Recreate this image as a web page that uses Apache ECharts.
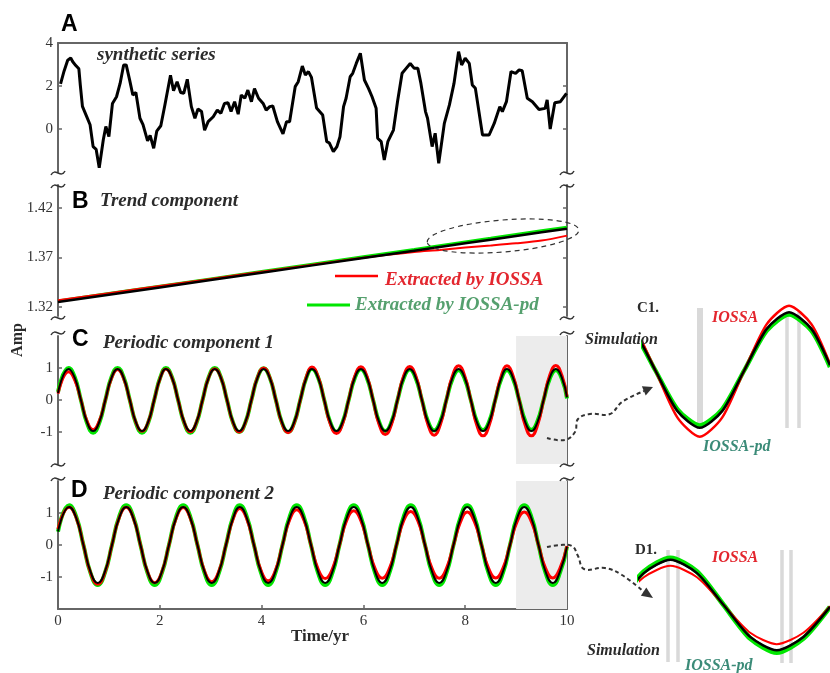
<!DOCTYPE html>
<html><head><meta charset="utf-8">
<script src="https://cdn.jsdelivr.net/npm/echarts@6/dist/echarts.min.js"></script>
<style>html,body{margin:0;padding:0;background:#fff}#c{width:830px;height:673px}</style>
</head><body><div id="c"></div>
<script>
// ---- Panel A: synthetic series [time, amp] ----
const synthetic = [[0.05,2.1],[0.12,2.7],[0.19,3.2],[0.25,3.3],[0.29,3.13],[0.35,2.95],[0.41,2.8],[0.44,2.0],[0.48,1.05],[0.56,0.6],[0.63,0.2],[0.69,-0.82],[0.75,-0.95],[0.81,-1.8],[0.89,-0.5],[0.94,0.12],[1.0,-0.35],[1.07,1.19],[1.15,1.5],[1.22,2.12],[1.29,2.98],[1.34,2.98],[1.41,2.25],[1.47,1.58],[1.53,1.7],[1.61,0.5],[1.67,0.2],[1.76,-0.55],[1.81,-0.3],[1.88,-0.9],[1.94,-0.1],[2.02,0.15],[2.1,1.12],[2.21,2.5],[2.27,1.78],[2.34,2.2],[2.41,1.7],[2.47,1.66],[2.54,2.31],[2.62,1.04],[2.69,0.5],[2.75,0.93],[2.82,0.81],[2.88,-0.06],[2.95,0.34],[3.05,0.57],[3.13,0.88],[3.2,0.73],[3.27,1.19],[3.34,1.22],[3.4,0.81],[3.47,1.27],[3.54,0.69],[3.6,1.58],[3.67,1.43],[3.73,1.81],[3.8,1.27],[3.86,1.88],[3.94,1.43],[4.03,1.19],[4.09,0.88],[4.16,1.04],[4.22,1.07],[4.31,0.34],[4.42,-0.23],[4.49,0.34],[4.55,0.34],[4.66,1.97],[4.72,2.2],[4.8,2.93],[4.86,2.51],[4.92,2.67],[4.98,2.4],[5.08,0.98],[5.2,0.65],[5.28,-0.59],[5.33,-0.64],[5.41,-1.05],[5.48,-0.82],[5.54,-0.36],[5.61,1.04],[5.66,1.43],[5.74,2.43],[5.79,2.59],[5.86,3.05],[5.94,3.52],[6.02,2.28],[6.1,1.89],[6.17,1.5],[6.25,0.96],[6.28,-0.43],[6.35,-0.59],[6.41,-1.44],[6.48,-0.59],[6.59,-0.05],[6.67,1.27],[6.76,2.59],[6.84,2.82],[6.92,3.05],[7.0,2.82],[7.07,2.82],[7.13,2.12],[7.22,0.81],[7.26,0.5],[7.35,-0.82],[7.41,-0.2],[7.48,-1.6],[7.59,0.26],[7.69,1.12],[7.78,2.12],[7.87,3.6],[7.93,2.98],[8.0,3.29],[8.08,3.05],[8.14,2.05],[8.2,1.89],[8.34,-0.28],[8.47,-0.28],[8.57,0.26],[8.68,1.04],[8.73,0.81],[8.81,1.27],[8.9,2.67],[8.99,2.59],[9.06,2.75],[9.12,2.71],[9.22,1.43],[9.32,1.27],[9.45,0.91],[9.57,0.96],[9.61,1.35],[9.67,0.0],[9.76,1.22],[9.87,1.27],[9.99,1.66]];

// ---- Panel B: trend component ----
const bX     = [0, 1, 2, 3, 4, 5, 6, 7, 7.5, 8, 8.5, 9, 9.5, 10];
const bSim   = [1.325,1.3324,1.3398,1.3472,1.3546,1.362,1.3694,1.3768,1.3805,1.3842,1.3879,1.3916,1.3953,1.399];
const bGreen = [1.3262,1.3336,1.341,1.3484,1.3558,1.3632,1.3706,1.378,1.3818,1.3856,1.3893,1.3931,1.3968,1.4005];
const bRed   = [1.3268,1.3340,1.3412,1.3484,1.3556,1.3627,1.3698,1.3755,1.3775,1.3800,1.3820,1.3842,1.3870,1.392];

// ---- Panel C: periodic component 1 ----
const cX = [0,
 0.21,0.33,0.45,0.57,0.69,0.81,0.93,1.05,
 1.17,1.29,1.41,1.53,1.65,1.77,1.89,2.01,
 2.12,2.24,2.36,2.48,2.60,2.72,2.84,2.96,
 3.08,3.20,3.32,3.44,3.56,3.68,3.80,3.92,
 4.04,4.16,4.28,4.40,4.52,4.64,4.76,4.88,
 4.99,5.11,5.23,5.35,5.47,5.59,5.71,5.83,
 5.95,6.07,6.19,6.31,6.43,6.55,6.67,6.79,
 6.91,7.03,7.15,7.27,7.39,7.51,7.63,7.75,
 7.87,7.99,8.11,8.23,8.35,8.47,8.59,8.71,
 8.82,8.94,9.06,9.18,9.30,9.42,9.54,9.66,
 9.78,9.90,10.0];
const cSim = [0.22,
 0.97,0.69,0,-0.69,-0.97,-0.69,0,0.69,
 0.97,0.69,0,-0.69,-0.97,-0.69,0,0.69,
 0.97,0.69,0,-0.69,-0.97,-0.69,0,0.69,
 0.97,0.69,0,-0.69,-0.97,-0.69,0,0.69,
 0.97,0.69,0,-0.69,-0.97,-0.69,0,0.69,
 0.97,0.69,0,-0.69,-0.97,-0.69,0,0.69,
 0.97,0.69,0,-0.69,-0.97,-0.69,0,0.69,
 0.97,0.69,0,-0.69,-0.97,-0.69,0,0.69,
 0.97,0.69,0,-0.69,-0.97,-0.69,0,0.69,
 0.97,0.69,0,-0.69,-0.97,-0.69,0,0.69,
 0.97,0.69,0.08];
const cRed = [0.2,
 0.88,0.62,0,-0.66,-0.93,-0.66,0,0.67,
 0.95,0.67,0,-0.70,-0.98,-0.70,0,0.69,
 0.97,0.69,0,-0.70,-0.99,-0.70,0,0.70,
 0.98,0.70,0,-0.71,-1.00,-0.71,0,0.71,
 1.00,0.71,0,-0.72,-1.02,-0.72,0,0.73,
 1.03,0.73,0,-0.75,-1.05,-0.75,0,0.74,
 1.04,0.74,0,-0.77,-1.08,-0.77,0,0.75,
 1.05,0.75,0,-0.78,-1.10,-0.78,0,0.76,
 1.07,0.76,0,-0.80,-1.12,-0.80,0,0.76,
 1.07,0.76,0,-0.80,-1.12,-0.80,0,0.77,
 1.08,0.77,0.1];
const cGreen = [0.25,
 1.00,0.71,0,-0.72,-1.02,-0.72,0,0.71,
 1.00,0.71,0,-0.72,-1.02,-0.72,0,0.71,
 1.00,0.71,0,-0.72,-1.02,-0.72,0,0.71,
 1.00,0.71,0,-0.71,-1.00,-0.71,0,0.70,
 0.99,0.70,0,-0.71,-1.00,-0.71,0,0.70,
 0.98,0.70,0,-0.70,-0.99,-0.70,0,0.68,
 0.96,0.68,0,-0.69,-0.97,-0.69,0,0.67,
 0.95,0.67,0,-0.67,-0.95,-0.67,0,0.66,
 0.93,0.66,0,-0.67,-0.94,-0.67,0,0.66,
 0.93,0.66,0,-0.66,-0.93,-0.66,0,0.66,
 0.93,0.66,0.05];

// ---- Panel D: periodic component 2 ----
const dX = [0,
 0.22,0.36,0.50,0.64,0.78,0.92,1.06,1.20,
 1.34,1.48,1.62,1.76,1.90,2.04,2.18,2.32,
 2.46,2.60,2.74,2.88,3.02,3.16,3.30,3.44,
 3.57,3.71,3.85,3.99,4.13,4.27,4.41,4.55,
 4.69,4.83,4.97,5.11,5.25,5.39,5.53,5.67,
 5.81,5.95,6.09,6.23,6.37,6.51,6.65,6.79,
 6.93,7.07,7.21,7.35,7.49,7.63,7.77,7.91,
 8.04,8.18,8.32,8.46,8.60,8.74,8.88,9.02,
 9.16,9.30,9.44,9.58,9.72,9.86,10.0];
const dSim = [0.42,
 1.19,0.84,0,-0.84,-1.19,-0.84,0,0.84,
 1.19,0.84,0,-0.84,-1.19,-0.84,0,0.84,
 1.19,0.84,0,-0.84,-1.19,-0.84,0,0.84,
 1.19,0.84,0,-0.84,-1.19,-0.84,0,0.84,
 1.19,0.84,0,-0.84,-1.19,-0.84,0,0.84,
 1.19,0.84,0,-0.84,-1.19,-0.84,0,0.84,
 1.19,0.84,0,-0.84,-1.19,-0.84,0,0.84,
 1.19,0.84,0,-0.84,-1.19,-0.84,0,0.84,
 1.19,0.84,0,-0.84,-1.19,-0.84,-0.05];
const dRed = [0.5,
 1.18,0.84,0,-0.87,-1.22,-0.87,0,0.84,
 1.18,0.84,0,-0.84,-1.18,-0.84,0,0.83,
 1.17,0.83,0,-0.82,-1.15,-0.82,0,0.81,
 1.14,0.81,0,-0.80,-1.12,-0.80,0,0.78,
 1.10,0.78,0,-0.75,-1.05,-0.75,0,0.76,
 1.07,0.76,0,-0.74,-1.04,-0.74,0,0.75,
 1.05,0.75,0,-0.74,-1.04,-0.74,0,0.73,
 1.03,0.73,0,-0.73,-1.03,-0.73,0,0.73,
 1.03,0.73,0,-0.73,-1.03,-0.73,-0.03];
const dGreen = [0.42,
 1.24,0.88,0,-0.88,-1.25,-0.88,0,0.88,
 1.24,0.88,0,-0.88,-1.25,-0.88,0,0.88,
 1.24,0.88,0,-0.88,-1.25,-0.88,0,0.88,
 1.24,0.88,0,-0.88,-1.25,-0.88,0,0.88,
 1.24,0.88,0,-0.88,-1.25,-0.88,0,0.88,
 1.24,0.88,0,-0.88,-1.25,-0.88,0,0.88,
 1.24,0.88,0,-0.88,-1.25,-0.88,0,0.88,
 1.24,0.88,0,-0.88,-1.25,-0.88,0,0.88,
 1.24,0.88,0,-0.88,-1.25,-0.88,-0.05];

// ---- tick labels ----
const xTicks = [0, 2, 4, 6, 8, 10];
const aTicks = [0, 2, 4];
const bTicks = [1.32, 1.37, 1.42];
const cTicks = [-1, 0, 1];
const dTicks = [-1, 0, 1];

const pairs = (xs, ys) => xs.map((x, i) => [x, ys[i]]);

const RED = '#ff0000', GREEN = '#00e600', BLACK = '#000000';
const AX = '#666666';
const SERIF = '"Liberation Serif", "Times New Roman", serif';
const SANS = '"Liberation Sans", Arial, sans-serif';

function leftY(gi, min, max, ticks, fmt) {
  return {type:'value', gridIndex:gi, position:'left', min, max,
    axisLine:{show:true, onZero:false, lineStyle:{color:AX, width:2}},
    axisTick:{show:true, inside:true, length:4, customValues:ticks, lineStyle:{color:AX, width:1.5}},
    axisLabel:{show:true, customValues:ticks, margin:5, color:'#333', fontFamily:SERIF, fontSize:15,
      formatter: fmt || (v => String(v))},
    splitLine:{show:false}};
}
function rightY(gi, min, max, ticks) {
  return {type:'value', gridIndex:gi, position:'right', min, max,
    axisLine:{show:true, onZero:false, lineStyle:{color:AX, width:2}},
    axisTick:{show:true, inside:true, length:4, customValues:ticks, lineStyle:{color:AX, width:1.5}},
    axisLabel:{show:false}, splitLine:{show:false}};
}
function hiddenX(gi, min, max) {
  return {type:'value', gridIndex:gi, min, max, show:false, axisLine:{onZero:false}};
}
function line(name, xi, yi, data, color, width, smooth, extra) {
  return Object.assign({type:'line', name, xAxisIndex:xi, yAxisIndex:yi, data, showSymbol:false,
    symbol:'none', smooth, clip:true, lineStyle:{color, width}, itemStyle:{color}, silent:true}, extra||{});
}

const shade = {silent:true, itemStyle:{color:'#ececec'}, data:[[{xAxis:9},{xAxis:10}]]};

function tilde(cx, cy) {
  return {type:'bezierCurve', z:50,
    shape:{x1:cx-7, y1:cy+2, cpx1:cx-3, cpy1:cy-6, cpx2:cx+3, cpy2:cy+6, x2:cx+7, y2:cy-2},
    style:{stroke:'#333', lineWidth:1.5, fill:null}};
}
function txt(text, x, y, font, fill, align, extra) {
  return Object.assign({type:'text', x, y, z:100,
    style:{text, font, fill, textAlign:align||'left', textVerticalAlign:'middle'}}, extra||{});
}
function vbar(x, y1, y2, w) {
  return {type:'rect', z:0, shape:{x:x-w/2, y:y1, width:w, height:y2-y1}, style:{fill:'#d9d9d9'}};
}

const graphics = [];
[173, 186, 318, 333, 465, 479].forEach(y => { graphics.push(tilde(58, y)); graphics.push(tilde(567, y)); });
const BI = 'italic bold 19px ' + SERIF;
graphics.push(
  txt('A', 61, 25, 'bold 23px ' + SANS, '#000'),
  txt('B', 72, 202, 'bold 23px ' + SANS, '#000'),
  txt('C', 72, 340, 'bold 23px ' + SANS, '#000'),
  txt('D', 71, 491, 'bold 23px ' + SANS, '#000'),
  txt('synthetic series', 97, 55, BI, '#2b2b2b'),
  txt('Trend component', 100, 201, BI, '#2b2b2b'),
  txt('Periodic component 1', 103, 343, BI, '#2b2b2b'),
  txt('Periodic component 2', 103, 494, BI, '#2b2b2b'),
  {type:'line', z:100, shape:{x1:335, y1:276, x2:378, y2:276}, style:{stroke:RED, lineWidth:2.5}},
  txt('Extracted by IOSSA', 385, 280, 'italic bold 19px ' + SERIF, '#e3262e'),
  {type:'line', z:100, shape:{x1:307, y1:305, x2:350, y2:305}, style:{stroke:GREEN, lineWidth:3}},
  txt('Extracted by IOSSA-pd', 355, 305, 'italic bold 19px ' + SERIF, '#55a06e'),
  {type:'ellipse', z:60, x:503, y:236, rotation:0.08, shape:{cx:0, cy:0, rx:76, ry:16},
    style:{fill:null, stroke:'#333', lineWidth:1.2, lineDash:[5,4]}},
  txt('Amp', 18, 340, 'bold 16px ' + SERIF, '#2b2b2b', 'center', {rotation:Math.PI/2}),
  txt('Time/yr', 320, 637, 'bold 17px ' + SERIF, '#2b2b2b', 'center'),
  // inset C1
  vbar(700, 308, 428, 6), vbar(787, 312, 428, 3.5), vbar(799, 312, 428, 3.5),
  txt('C1.', 637, 308, 'bold 15px ' + SERIF, '#2b2b2b'),
  txt('Simulation', 585, 340, 'italic bold 16px ' + SERIF, '#2b2b2b'),
  txt('IOSSA', 712, 318, 'italic bold 16px ' + SERIF, '#e3262e'),
  txt('IOSSA-pd', 703, 447, 'italic bold 16px ' + SERIF, '#3b8b78'),
  // inset D1
  vbar(668, 550, 662, 3.5), vbar(678, 550, 662, 3.5), vbar(782, 550, 663, 3.5), vbar(791, 550, 663, 3.5),
  txt('D1.', 635, 550, 'bold 15px ' + SERIF, '#2b2b2b'),
  txt('IOSSA', 712, 558, 'italic bold 16px ' + SERIF, '#e3262e'),
  txt('Simulation', 587, 651, 'italic bold 16px ' + SERIF, '#2b2b2b'),
  txt('IOSSA-pd', 685, 666, 'italic bold 16px ' + SERIF, '#3b8b78'),
  // arrows
  {type:'polyline', z:60, shape:{smooth:0.4, points:[[547,438],[565,440],[575,432],[578,419],[590,414],[610,414],[622,402],[644,391]]},
    style:{stroke:'#333', lineWidth:2, lineDash:[4,3], fill:null}},
  {type:'polygon', z:60, shape:{points:[[653,387],[645.7,395.4],[641.9,386.2]]}, style:{fill:'#333'}},
  {type:'polyline', z:60, shape:{smooth:0.4, points:[[547,547],[560,545],[572,546],[578,556],[584,569],[605,568],[622,575],[644,592]]},
    style:{stroke:'#333', lineWidth:2, lineDash:[4,3], fill:null}},
  {type:'polygon', z:60, shape:{points:[[653,598],[640.9,595.8],[646.3,587.4]]}, style:{fill:'#333'}}
);

const option = {
  animation:false,
  backgroundColor:'#ffffff',
  grid:[
    {left:58, top:43, width:509, height:129},
    {left:58, top:185, width:509, height:131},
    {left:58, top:336, width:509, height:128},
    {left:58, top:481, width:509, height:128},
    {left:644, top:298.5, width:187, height:143},
    {left:640, top:548, width:202, height:114}
  ],
  xAxis:[
    {type:'value', gridIndex:0, min:0, max:10, interval:2, position:'top',
      axisLine:{show:true, onZero:false, lineStyle:{color:AX, width:2}}, axisTick:{show:false}, axisLabel:{show:false}, splitLine:{show:false}},
    hiddenX(1, 0, 10), hiddenX(2, 0, 10),
    {type:'value', gridIndex:3, min:0, max:10, interval:2, position:'bottom',
      axisLine:{show:true, onZero:false, lineStyle:{color:AX, width:2}},
      axisTick:{show:true, inside:true, length:4, customValues:xTicks, lineStyle:{color:AX, width:1.5}},
      axisLabel:{show:true, customValues:xTicks, margin:5, color:'#333', fontFamily:SERIF, fontSize:15},
      splitLine:{show:false}},
    hiddenX(4, 9, 10), hiddenX(5, 9, 10)
  ],
  yAxis:[
    leftY(0, -2, 4, aTicks),
    leftY(1, 1.311, 1.443, bTicks, v => v.toFixed(2)),
    leftY(2, -2, 2, cTicks),
    leftY(3, -2, 2, dTicks),
    rightY(0, -2, 4, aTicks),
    rightY(1, 1.311, 1.443, bTicks),
    rightY(2, -2, 2, cTicks),
    rightY(3, -2, 2, dTicks),
    {type:'value', gridIndex:4, min:-1.2, max:1.2, show:false},
    {type:'value', gridIndex:5, min:-1.5, max:1.5, show:false}
  ],
  series:[
    line('synthetic', 0, 0, synthetic, BLACK, 3, false),
    line('trendGreen', 1, 1, pairs(bX, bGreen), GREEN, 3, false),
    line('trendRed', 1, 1, pairs(bX, bRed), RED, 2, 0.3),
    line('trendSim', 1, 1, pairs(bX, bSim), BLACK, 2.5, false),
    line('p1Green', 2, 2, pairs(cX, cGreen), GREEN, 4, true, {markArea:shade}),
    line('p1Red', 2, 2, pairs(cX, cRed), RED, 3, true),
    line('p1Sim', 2, 2, pairs(cX, cSim), BLACK, 2, true),
    line('p2Green', 3, 3, pairs(dX, dGreen), GREEN, 4, true, {markArea:shade}),
    line('p2Red', 3, 3, pairs(dX, dRed), RED, 3, true),
    line('p2Sim', 3, 3, pairs(dX, dSim), BLACK, 2, true),
    line('c1Green', 4, 8, pairs(cX, cGreen), GREEN, 4.5, 0.25),
    line('c1Red', 4, 8, pairs(cX, cRed), RED, 2.5, 0.25),
    line('c1Sim', 4, 8, pairs(cX, cSim), BLACK, 2.5, 0.25),
    line('d1Green', 5, 9, pairs(dX, dGreen), GREEN, 5, 0.25),
    line('d1Red', 5, 9, pairs(dX, dRed), RED, 2, 0.25),
    line('d1Sim', 5, 9, pairs(dX, dSim), BLACK, 2.5, 0.25)
  ],
  graphic:{elements:graphics}
};
const chart = echarts.init(document.getElementById('c'), null, {renderer:'canvas'});
chart.setOption(option);
</script>
</body></html>
